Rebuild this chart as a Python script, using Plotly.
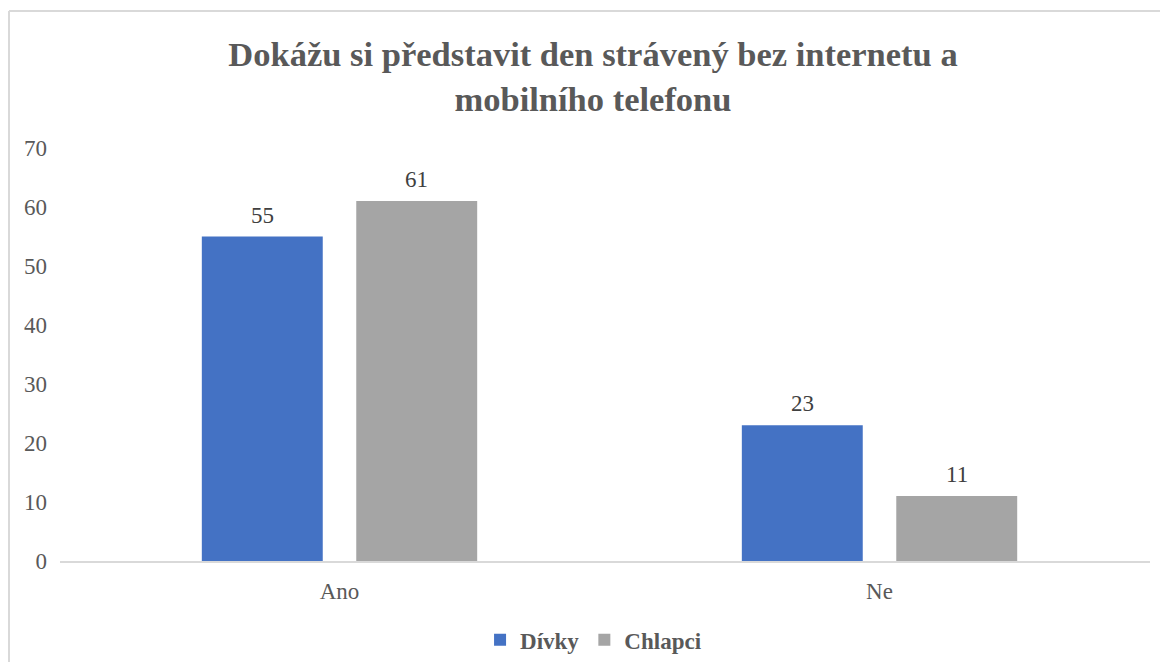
import plotly.graph_objects as go

categories = ["Ano", "Ne"]
divky = [55, 23]
chlapci = [61, 11]
series_names = ["Dívky", "Chlapci"]
y_ticks = [0, 10, 20, 30, 40, 50, 60, 70]
title_text = "Dokážu si představit den strávený bez internetu a<br>mobilního telefonu"

BLUE = "#4472C4"
GRAY = "#A5A5A5"
FONT = "'Times New Roman', 'Liberation Serif', 'DejaVu Serif', serif"

fig = go.Figure()
fig.add_trace(go.Bar(x=categories, y=divky, name=series_names[0],
                     marker=dict(color=BLUE, line=dict(width=0))))
fig.add_trace(go.Bar(x=categories, y=chlapci, name=series_names[1],
                     marker=dict(color=GRAY, line=dict(width=0))))

# data labels
for vals, shift in ((divky, -77.25), (chlapci, 77.25)):
    for c, v in zip(categories, vals):
        fig.add_annotation(x=c, y=v, text=str(v), showarrow=False,
                           xshift=shift, yshift=7, yanchor="bottom",
                           font=dict(family=FONT, size=23, color="#404040"))

# outer chart border (top and left edges visible in the frame)
border = dict(color="#D9D9D9", width=2)
fig.add_shape(type="line", xref="paper", yref="paper",
              x0=-0.0468, x1=1.1, y0=1.3317, y1=1.3317, line=border, layer="below")
fig.add_shape(type="line", xref="paper", yref="paper",
              x0=-0.0468, x1=-0.0468, y0=-0.5, y1=1.3317, line=border, layer="below")

fig.update_layout(
    width=1152, height=654,
    margin=dict(l=52, r=10, t=140, b=101, autoexpand=False),
    paper_bgcolor="white", plot_bgcolor="white",
    barmode="group", bargap=0.428, bargroupgap=0.217,
    title=dict(text="<b>" + title_text + "</b>", x=0.489, xref="paper",
               xanchor="center", y=0.9109, yanchor="middle",
               font=dict(family=FONT, size=34.5, color="#595959")),
    font=dict(family=FONT, color="#595959"),
    showlegend=True,
    legend=dict(orientation="h", x=0.4895, xanchor="center", y=-0.191,
                yanchor="middle",
                font=dict(family=FONT, size=23, color="#595959", weight="bold"),
                itemwidth=30, traceorder="normal"),
    xaxis=dict(range=[-0.5176, 1.5009], showline=True, linecolor="#D9D9D9",
               linewidth=2, showgrid=False, ticks="", ticklabelstandoff=8,
               tickfont=dict(family=FONT, size=23, color="#595959")),
    yaxis=dict(range=[0, 70], tickvals=y_ticks, showgrid=False, zeroline=False,
               showline=False, ticks="", ticklabelstandoff=12,
               tickfont=dict(family=FONT, size=23, color="#595959")),
)

fig.write_html("out.html")
